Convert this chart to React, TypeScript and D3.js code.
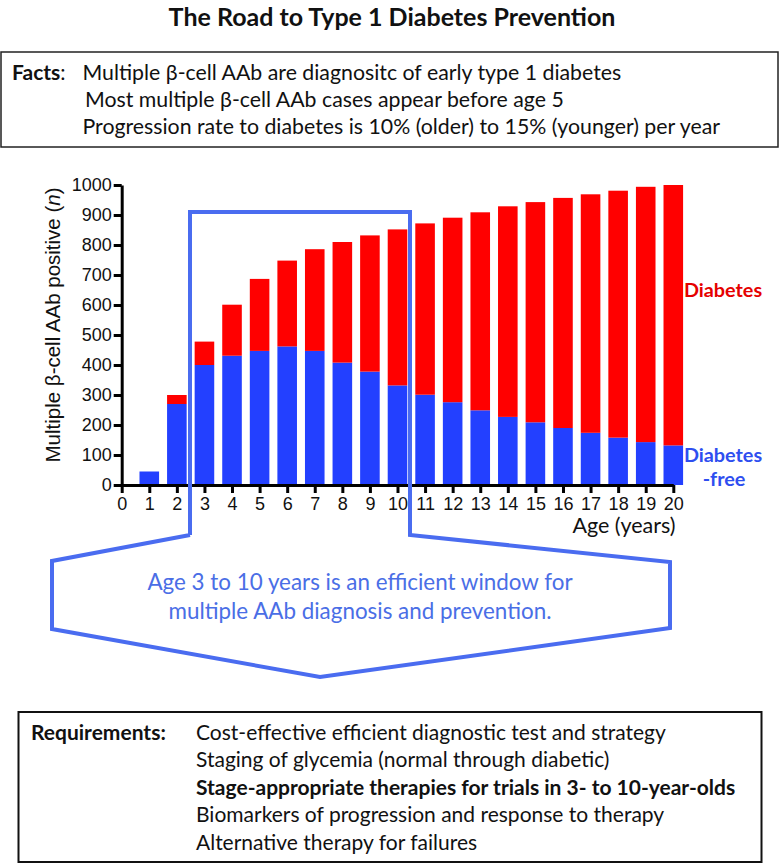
import React, { useEffect, useRef } from "react";
import * as d3 from "d3";

// ages on the x axis
const ages = [1, 2, 3, 4, 5, 6, 7, 8, 9, 10, 11, 12, 13, 14, 15, 16, 17, 18, 19, 20];
// blue part of each bar
const diabetesFree = [45, 270, 400, 431, 447, 462, 447, 408, 378, 332, 301, 276, 249, 227, 209, 190, 174, 158, 143, 132];
// red part stacked on top
const diabetes = [0, 30, 78, 170, 240, 286, 339, 402, 454, 520, 571, 615, 660, 702, 734, 767, 795, 823, 851, 868];

const xTicks = d3.range(0, 21);
const yTicks = d3.range(0, 1001, 100);

const factLines = [
  "Multiple \u03b2-cell AAb are diagnositc of early type 1 diabetes",
  "Most multiple \u03b2-cell AAb cases appear before age 5",
  "Progression rate to diabetes is 10% (older) to 15% (younger) per year",
];
const requirementLines = [
  "Cost-effective efficient diagnostic test and strategy",
  "Staging of glycemia (normal through diabetic)",
  "Stage-appropriate therapies for trials in 3- to 10-year-olds",
  "Biomarkers of progression and response to therapy",
  "Alternative therapy for failures",
];
const calloutLines = [
  "Age 3 to 10 years is an efficient window for",
  "multiple AAb diagnosis and prevention.",
];

const W = 780;
const H = 863;
const left = 121.7;
const right = 673.3;
const top = 185;
const bottom = 485;

const SANS = "Lato, 'Open Sans', sans-serif";
const HELV = "'Liberation Sans', Arial, Helvetica, sans-serif";
const BLUE = "#2340ff";
const RED = "#ff0000";
const LINE = "#4a6cf0";

const XAxis = ({ scale }) => {
  const axis = useRef(null);
  useEffect(() => {
    const g = d3.select(axis.current);
    g.call(d3.axisBottom(scale).tickValues(xTicks).tickSize(8).tickSizeOuter(0).tickPadding(4));
    g.select(".domain").attr("stroke-width", 3);
    g.selectAll(".tick line").attr("stroke-width", 3);
    g.selectAll(".tick text").attr("font-size", 18).attr("font-family", HELV).attr("fill", "#111");
  });
  return <g ref={axis} transform={`translate(0, ${bottom})`} />;
};

const YAxis = ({ scale }) => {
  const axis = useRef(null);
  useEffect(() => {
    const g = d3.select(axis.current);
    g.call(
      d3.axisLeft(scale).tickValues(yTicks).tickFormat(d3.format("d")).tickSize(8).tickSizeOuter(0).tickPadding(2)
    );
    g.select(".domain").attr("stroke-width", 3);
    g.selectAll(".tick line").attr("stroke-width", 3);
    g.selectAll(".tick text").attr("font-size", 18).attr("font-family", HELV).attr("fill", "#111");
  });
  return <g ref={axis} transform={`translate(${left}, 0)`} />;
};

export default function App() {
  const x = d3.scaleLinear().domain([0, 20]).range([left, right]);
  const y = d3.scaleLinear().domain([0, 1000]).range([bottom, top]);
  const barW = (x(1) - x(0)) * 0.71;

  const table = ages.map((a, i) => ({ age: a, free: diabetesFree[i], diabetes: diabetes[i] }));
  const series = d3.stack().keys(["free", "diabetes"])(table);
  const colors = { free: BLUE, diabetes: RED };

  const callout = [
    [190, 535], [190, 212], [410, 212], [410, 535],
    [670, 562], [670, 628], [320, 677], [52, 629], [52, 561], [190, 535],
  ];

  return (
    <svg width={W} height={H} style={{ position: "absolute", left: 0, top: 0, background: "#fff" }}>
      <text x={392} y={26} textAnchor="middle" fontFamily={SANS} fontWeight="bold" fontSize={25} fill="#111">
        The Road to Type 1 Diabetes Prevention
      </text>

      {/* facts box */}
      <rect x={1} y={52} width={777} height={95} fill="none" stroke="#222" strokeWidth={1.5} />
      <text x={12} y={80} fontFamily={SANS} fontSize={21} fill="#111">
        <tspan fontWeight="bold">Facts</tspan>:
      </text>
      {factLines.map((t, i) => (
        <text key={i} x={i === 1 ? 85 : 82.5} y={80 + i * 27} fontFamily={SANS} fontSize={21.3} fill="#111">
          {t}
        </text>
      ))}

      {/* bars */}
      {series.map(s => (
        <g key={s.key} fill={colors[s.key]}>
          {s.map((d, i) => (
            <rect
              key={i}
              x={x(d.data.age) - barW / 2}
              y={y(d[1])}
              width={barW}
              height={Math.max(0, y(d[0]) - y(d[1]))}
            />
          ))}
        </g>
      ))}

      <XAxis scale={x} />
      <YAxis scale={y} />

      <text transform={`translate(60, 325) rotate(-90)`} textAnchor="middle" fontFamily={HELV} fontSize={20.5} fill="#111">
        Multiple {"\u03b2"}-cell AAb positive (<tspan fontStyle="italic">n</tspan>)
      </text>
      <text x={624} y={533} textAnchor="middle" fontFamily={SANS} fontSize={21.5} fill="#111">
        Age (years)
      </text>

      <text x={723} y={297} textAnchor="middle" fontFamily={SANS} fontWeight="bold" fontSize={19.8} fill="#e50000">
        Diabetes
      </text>
      <text x={723} y={462} textAnchor="middle" fontFamily={SANS} fontWeight="bold" fontSize={19.8} fill="#2e4ef0">
        Diabetes
      </text>
      <text x={724} y={486} textAnchor="middle" fontFamily={SANS} fontWeight="bold" fontSize={19.8} fill="#2e4ef0">
        -free
      </text>

      {/* window box and callout arrow */}
      <path d={d3.line()(callout)} fill="none" stroke={LINE} strokeWidth={4} strokeLinejoin="miter" />
      {calloutLines.map((t, i) => (
        <text key={i} x={360} y={590 + i * 29} textAnchor="middle" fontFamily={SANS} fontSize={22.4} fill="#4a6ee6">
          {t}
        </text>
      ))}

      {/* requirements box */}
      <rect x={18.5} y={712} width={743} height={150} fill="none" stroke="#111" strokeWidth={2} />
      <text x={31} y={740} fontFamily={SANS} fontWeight="bold" fontSize={21} fill="#111">
        Requirements:
      </text>
      {requirementLines.map((t, i) => (
        <text key={i} x={196} y={740 + i * 27.4} fontFamily={SANS} fontSize={21} fontWeight={i === 2 ? "bold" : "normal"} fill="#111">
          {t}
        </text>
      ))}
    </svg>
  );
}
